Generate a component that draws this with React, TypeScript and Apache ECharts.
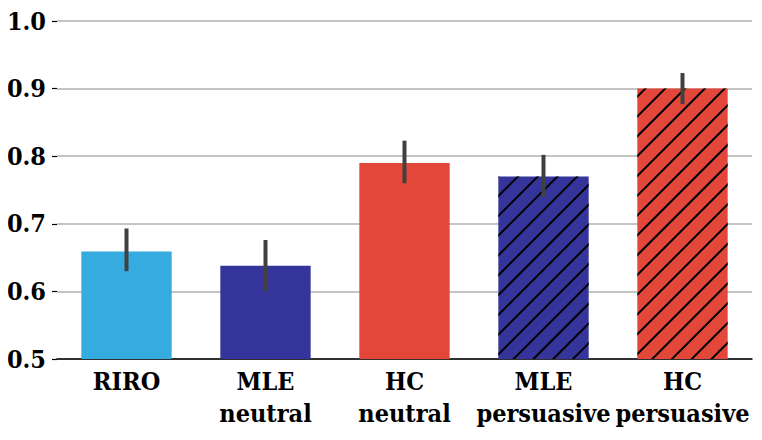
import React, { useEffect, useRef } from "react";
import * as echarts from "echarts";

const categories = ["RIRO", "MLE\nneutral", "HC\nneutral", "MLE\npersuasive", "HC\npersuasive"];
const values = [0.659, 0.638, 0.79, 0.77, 0.9];
const errLow = [0.63, 0.6, 0.76, 0.74, 0.877];
const errHigh = [0.693, 0.676, 0.823, 0.802, 0.923];
const colors = ["#35ABE0", "#35349B", "#E3473A", "#35349B", "#E3473A"];
const hatched = [false, false, false, true, true];
const yTicks = [0.5, 0.6, 0.7, 0.8, 0.9, 1.0];

const FONT = "DejaVu Serif Condensed";

export default function App() {
  const ref = useRef<HTMLDivElement>(null);
  useEffect(() => {
    const chart = echarts.init(ref.current!, undefined, { renderer: "svg" });
    const decal = {
      symbol: "rect",
      color: "#000",
      dashArrayX: [1, 0],
      dashArrayY: [1.4, 12],
      rotation: -Math.PI / 4,
      symbolSize: 1,
    };
    chart.setOption({
      animation: false,
      grid: { left: 57, right: 10, top: 21, bottom: 81, containLabel: false },
      xAxis: {
        type: "category",
        data: categories,
        axisLine: { lineStyle: { color: "#000", width: 1.5 } },
        axisTick: { alignWithLabel: true, length: 5, lineStyle: { color: "#000", width: 1.2 } },
        axisLabel: {
          color: "#000",
          fontFamily: FONT,
          fontWeight: "bold",
          fontSize: 25,
          lineHeight: 32,
          margin: 6,
          interval: 0,
        },
      },
      yAxis: {
        type: "value",
        min: 0.5,
        max: 1.0,
        interval: 0.1,
        axisLine: { show: false },
        axisTick: { show: true, length: 5, lineStyle: { color: "#000", width: 1.2 } },
        splitLine: { lineStyle: { color: "#b0b0b0", width: 1.5 } },
        axisLabel: {
          color: "#000",
          fontFamily: FONT,
          fontWeight: "bold",
          fontSize: 25,
          margin: 11,
          formatter: (v: number) => (yTicks.some((t) => Math.abs(t - v) < 1e-9) ? v.toFixed(1) : ""),
        },
      },
      series: [
        {
          type: "bar",
          barCategoryGap: "35%",
          data: values.map((v, i) => ({
            value: v,
            itemStyle: {
              color: colors[i],
              decal: hatched[i] ? decal : { symbol: "none" },
            },
          })),
        },
        {
          type: "custom",
          z: 10,
          renderItem: (params: any, api: any) => {
            const i = api.value(0);
            const p1 = api.coord([i, api.value(1)]);
            const p2 = api.coord([i, api.value(2)]);
            return {
              type: "line",
              shape: { x1: p1[0], y1: p1[1], x2: p2[0], y2: p2[1] },
              style: { stroke: "#404040", lineWidth: 4 },
            };
          },
          data: errLow.map((l, i) => [i, l, errHigh[i]]),
        },
      ],
    });
    return () => chart.dispose();
  }, []);
  return <div ref={ref} style={{ width: 762, height: 440, margin: -8 }} />;
}
